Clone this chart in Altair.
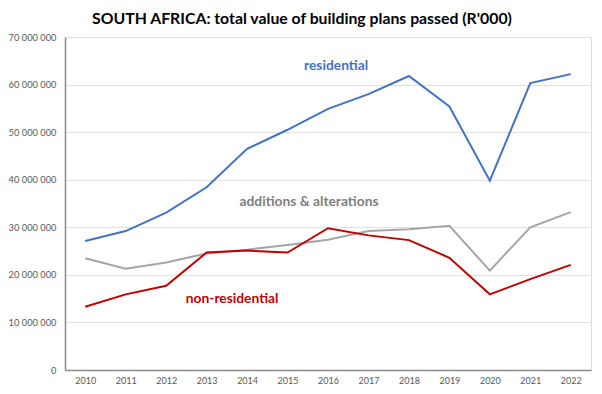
import altair as alt
import pandas as pd

years = list(range(2010, 2023))
residential = [27.1, 29.2, 33.1, 38.4, 46.5, 50.5, 54.9, 58.0, 61.8, 55.4, 39.8, 60.3, 62.2]
additions = [23.5, 21.3, 22.6, 24.5, 25.3, 26.3, 27.4, 29.2, 29.6, 30.3, 20.9, 30.0, 33.2]
non_residential = [13.3, 15.9, 17.7, 24.7, 25.1, 24.7, 29.8, 28.3, 27.3, 23.6, 15.9, 19.1, 22.1]

series_names = ["residential", "additions & alterations", "non-residential"]
series_colors = ["#4472C4", "#A5A5A5", "#C00000"]
label_colors = ["#4472C4", "#808080", "#C00000"]
label_x = [2016.2, 2015.53, 2013.63]
label_y = [63.9, 35.3, 14.9]

rows = []
for name, vals in zip(series_names, [residential, additions, non_residential]):
    for yr, v in zip(years, vals):
        rows.append({"year": yr, "value": v * 1_000_000, "series": name})
df = pd.DataFrame(rows)

lab = pd.DataFrame({
    "text": series_names,
    "x": label_x,
    "y": [v * 1_000_000 for v in label_y],
    "color": label_colors,
})

FONT = "Lato"

x = alt.X(
    "year:Q",
    scale=alt.Scale(domain=[2009.5, 2022.5], nice=False, zero=False),
    axis=alt.Axis(
        values=years, format="d", title=None, ticks=False, grid=False,
        domainColor="#8C8C8C", domainWidth=1.5, labelFontSize=9,
        labelColor="#595959", labelFont=FONT, labelPadding=6,
    ),
)
y = alt.Y(
    "value:Q",
    scale=alt.Scale(domain=[0, 70_000_000], nice=False),
    axis=alt.Axis(
        values=[i * 10_000_000 for i in range(8)], title=None, ticks=False,
        gridColor="#E0E0E0", gridWidth=1.2, domainColor="#8C8C8C", domainWidth=1.5,
        labelFontSize=9.3, labelColor="#595959", labelFont=FONT, labelPadding=9,
        labelExpr="replace(format(datum.value, ','), regexp(',', 'g'), ' ')",
    ),
)

lines = alt.Chart(df).mark_line(strokeWidth=2).encode(
    x=x, y=y,
    color=alt.Color("series:N", scale=alt.Scale(domain=series_names, range=series_colors), legend=None),
    detail="series:N",
)

texts = alt.Chart(lab).mark_text(font=FONT, fontSize=13.8, fontWeight="bold", align="center", baseline="middle").encode(
    x=alt.X("x:Q", scale=alt.Scale(domain=[2009.5, 2022.5], nice=False, zero=False)),
    y=alt.Y("y:Q", scale=alt.Scale(domain=[0, 70_000_000], nice=False)),
    color=alt.Color("color:N", scale=None),
    text="text:N",
)

chart = alt.layer(lines, texts).properties(
    width=526, height=333,
    title=alt.TitleParams(
        "SOUTH AFRICA: total value of building plans passed (R'000)",
        font=FONT, fontSize=15.8, fontWeight="bold", color="#000000",
        anchor="middle", offset=5, dx=-26,
    ),
    autosize=alt.AutoSizeParams(type="none"),
    padding={"left": 57, "top": 29, "right": 3, "bottom": 16},
).configure_view(stroke=None).configure(background="white")

chart.save("out.html", embed_options={"renderer": "svg", "actions": False})
